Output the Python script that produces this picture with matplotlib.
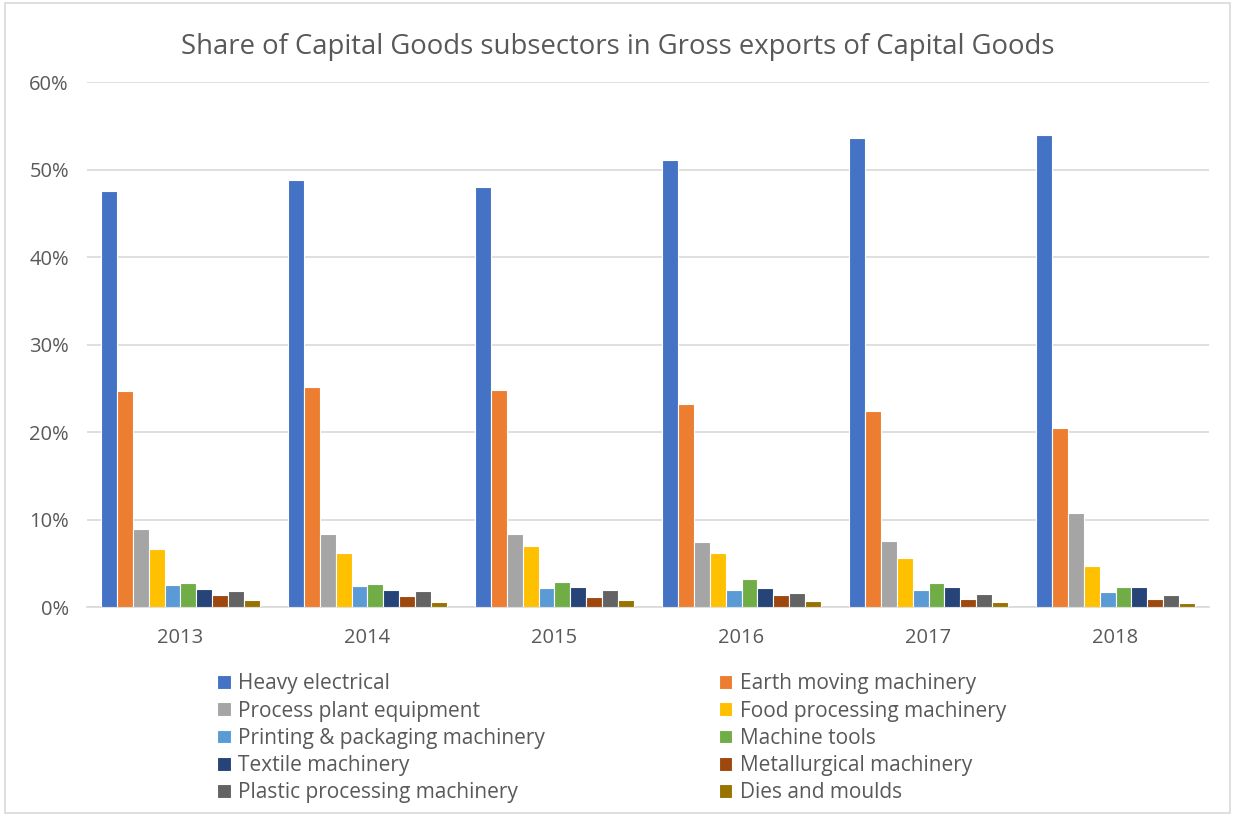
import numpy as np
import matplotlib
matplotlib.use('Agg')
import matplotlib.pyplot as plt
from matplotlib.patches import Rectangle
from matplotlib.ticker import PercentFormatter

# shares (%)
YEARS = ['2013', '2014', '2015', '2016', '2017', '2018']
HEAVY_ELECTRICAL = [47.6, 48.8, 48.0, 51.1, 53.6, 53.9]
EARTH_MOVING = [24.7, 25.1, 24.8, 23.2, 22.4, 20.5]
PROCESS_PLANT = [8.9, 8.3, 8.3, 7.4, 7.5, 10.7]
FOOD_PROCESSING = [6.6, 6.2, 7.0, 6.2, 5.6, 4.7]
PRINTING_PACKAGING = [2.55, 2.37, 2.13, 1.9, 1.9, 1.75]
MACHINE_TOOLS = [2.7, 2.63, 2.86, 3.2, 2.7, 2.25]
TEXTILE = [2.06, 1.98, 2.29, 2.17, 2.25, 2.32]
METALLURGICAL = [1.37, 1.26, 1.1, 1.37, 0.95, 0.88]
PLASTIC_PROCESSING = [1.83, 1.83, 1.9, 1.6, 1.49, 1.34]
DIES_MOULDS = [0.77, 0.57, 0.77, 0.69, 0.57, 0.49]

SERIES = [
    ('Heavy electrical', HEAVY_ELECTRICAL, '#4472C4'),
    ('Earth moving machinery', EARTH_MOVING, '#ED7D31'),
    ('Process plant equipment', PROCESS_PLANT, '#A5A5A5'),
    ('Food processing machinery', FOOD_PROCESSING, '#FFC000'),
    ('Printing & packaging machinery', PRINTING_PACKAGING, '#5B9BD5'),
    ('Machine tools', MACHINE_TOOLS, '#70AD47'),
    ('Textile machinery', TEXTILE, '#264478'),
    ('Metallurgical machinery', METALLURGICAL, '#9E480E'),
    ('Plastic processing machinery', PLASTIC_PROCESSING, '#636363'),
    ('Dies and moulds', DIES_MOULDS, '#997300'),
]

TXT = '#595959'
plt.rcParams['font.family'] = ['Open Sans', 'DejaVu Sans']

fig = plt.figure(figsize=(12.35, 8.16), dpi=100)
ax = fig.add_axes([0.0704, 0.2561, 0.9086, 0.6434])

x = np.arange(len(YEARS))
n = len(SERIES)
group = 0.85
w = group / n
handles = []
for i, (name, vals, col) in enumerate(SERIES):
    pos = x - group / 2 + w * (i + 0.5)
    b = ax.bar(pos, vals, width=w, color=col, edgecolor='white',
               linewidth=0.8, label=name, zorder=3)
    handles.append(b)

ax.set_xlim(-0.5, len(YEARS) - 0.5)
ax.set_ylim(0, 60)
ax.set_yticks(np.arange(0, 61, 10))
ax.yaxis.set_major_formatter(PercentFormatter(decimals=0))
ax.grid(axis='y', color='#D9D9D9', lw=1.2, zorder=0)
for s in ('top', 'right', 'left'):
    ax.spines[s].set_visible(False)
ax.spines['bottom'].set_color('#D9D9D9')
ax.spines['bottom'].set_linewidth(1.2)
ax.set_xticks(x)
ax.set_xticklabels(YEARS)
ax.tick_params(axis='both', length=0, labelsize=14.5, colors=TXT)
ax.tick_params(axis='x', pad=15)
ax.tick_params(axis='y', pad=13)

fig.text(0.5, 0.942, 'Share of Capital Goods subsectors in Gross exports of Capital Goods',
         ha='center', va='center', fontsize=19.8, color=TXT)

order = [0, 2, 4, 6, 8, 1, 3, 5, 7, 9]
fig.legend([handles[i] for i in order], [SERIES[i][0] for i in order],
           ncol=2, loc='upper left', bbox_to_anchor=(0.1675, 0.1876),
           frameon=False, fontsize=15, labelcolor=TXT,
           handlelength=0.65, handleheight=0.65, handletextpad=0.35,
           labelspacing=0.30, columnspacing=8.35, borderpad=0)

fig.add_artist(Rectangle((0.004, 0.004), 0.992, 0.992, transform=fig.transFigure,
                         fill=False, edgecolor='#D9D9D9', lw=1.2))

fig.savefig('out.png', dpi=100)
